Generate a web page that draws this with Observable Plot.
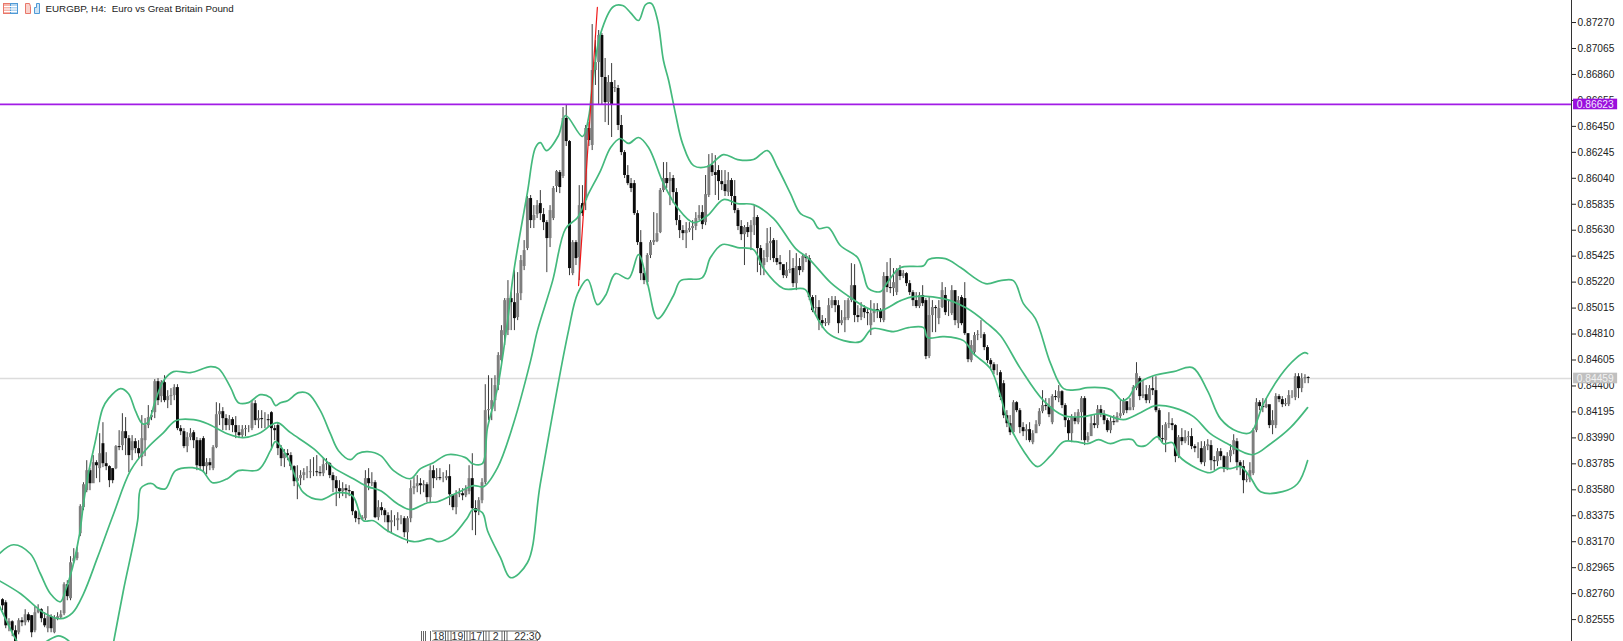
<!DOCTYPE html>
<html><head><meta charset="utf-8">
<script src="https://cdn.jsdelivr.net/npm/d3@7"></script>
<script src="https://cdn.jsdelivr.net/npm/@observablehq/plot@0.6"></script>
<style>
html,body{margin:0;padding:0;background:#fff;overflow:hidden}
#wrap{position:relative;width:1623px;height:641px}
#chrome{position:absolute;left:0;top:0;pointer-events:none}
</style></head><body>
<div id="wrap"><div id="plot"></div>
<svg id="chrome" width="1623" height="641">
<g stroke-width="1">
<rect x="3.5" y="3.5" width="7" height="10" fill="#f6b5ac" stroke="#e8776a"/><rect x="10.5" y="3.5" width="7" height="10" fill="#b5d5ef" stroke="#4f9ad6"/>
<path d="M4 6.5H17M4 9H17M4 11.500H17" stroke="#fff"/>
<path d="M25.500 3.500h4l1 3v7h-5z" fill="#f9d2cc" stroke="#e8776a"/><path d="M39.500 3.500h-3v4h-2v6h5z" fill="#cfe4f5" stroke="#4f9ad6"/>
</g>
<g stroke="#555" fill="none" stroke-width="0.9">
<path d="M421.500 631v10M423.500 631v10M425.500 631v10M430.500 631v10M432 631H537l4 5-4 5H432M445.500 631v10M448 631v10M451 631v10M464.500 631v10M467 631v10M470 631v10M483.500 631v10M486 631v10M489 631v10M502 631v10M504.500 631v10M507 631v10"/>
</g>
</svg></div>
<script>
// EURGBP H4 prices, in units of 0.00001
const closes=[
82664,82506,82538,82467,82380,82546,82530,82593,82546,82451,
82609,82633,82562,82506,82578,82483,82562,82578,82593,82830,
82736,83004,83036,83083,83447,83620,83731,83628,83794,83770,
83865,83786,83763,83652,83652,83921,83913,84039,83984,83850,
83960,83905,83865,83984,84087,84150,84166,84434,84284,84426,
84284,84316,84324,84387,84063,84039,83921,83992,84023,83968,
83770,83763,83763,83794,83770,83913,84173,84197,84142,84087,
84134,84087,84031,84008,84055,84063,84063,84260,84126,84142,
84134,84134,84126,84063,84047,83905,83826,83865,83850,83763,
83644,83668,83692,83715,83715,83723,83723,83715,83707,83778,
83786,83692,83652,83589,83565,83589,83573,83565,83407,83352,
83344,83360,83668,83628,83636,83360,83439,83415,83376,83320,
83336,83336,83352,83352,83241,83352,83589,83605,83628,83612,
83620,83518,83731,83668,83676,83668,83668,83684,83541,83439,
83541,83549,83533,83581,83668,83431,83399,83494,83636,84205,
84213,84284,84403,84640,84837,85074,85090,85058,84932,85129,
85390,85469,85880,85706,85746,85824,85761,85690,85564,85785,
85959,86093,85967,86512,86330,85327,85532,85406,85824,85761,
86433,86338,86891,86954,87168,86836,86638,86796,86615,86757,
86457,86243,86062,85998,85959,85761,85532,85287,85232,85430,
85532,85548,85603,85943,86038,85998,86038,85927,85706,85627,
85603,85627,85643,85659,85722,85746,85674,85911,86140,86085,
86062,86014,85990,85935,86022,85896,85785,85659,85595,85651,
85611,85666,85730,85485,85351,85406,85524,85540,85406,85374,
85358,85271,85311,85319,85208,85343,85311,85422,85406,85098,
84995,85019,84916,84892,84900,85034,85074,85034,84892,84916,
84940,85074,85192,84956,84940,85011,84979,84971,84971,85003,
84995,84932,85264,85177,85169,85216,85311,85264,85287,85208,
85137,85074,85027,85114,85050,84632,84956,85019,85011,85011,
85153,84979,84979,85153,84916,85074,84892,84813,84608,84719,
84798,84805,84805,84703,84600,84568,84521,84521,84308,84165,
84102,84031,84268,84205,84071,84039,84055,83968,84023,84094,
84197,84245,84237,84173,84316,84308,84355,84245,84126,84023,
84150,84118,84189,84300,83968,84000,84102,84087,84213,84173,
84126,84047,84118,84110,84158,84181,84276,84205,84229,84387,
84497,84316,84331,84284,84379,84363,84205,83984,83976,84094,
84102,84087,83842,83992,83960,83992,84000,83921,83905,83905,
83794,83921,83936,83810,83802,83881,83842,83747,83842,83889,
83968,83794,83763,83652,83660,83731,84047,84268,84237,84229,
84252,84087,84126,84316,84292,84252,84260,84324,84324,84473,
84379,84458,84466,84459];
const opens=[
82712,82688,82506,82538,82467,82451,82546,82530,82593,82586,
82467,82609,82633,82562,82483,82578,82451,82562,82570,82601,
82830,82720,83012,83036,83233,83439,83573,83731,83628,83794,
83747,83944,83786,83763,83747,83747,83921,83929,84039,83984,
83889,83960,83905,83834,83968,84087,84150,84189,84434,84316,
84426,84284,84316,84324,84387,84063,84039,83921,83992,84031,
83968,83968,83984,83763,83794,83747,83913,84173,84197,84142,
84087,84134,84087,84031,84008,84055,84063,84063,84260,84126,
84142,84134,84134,84189,84063,84087,83905,83826,83865,83850,
83763,83644,83668,83692,83715,83715,83723,83723,83715,83707,
83778,83786,83692,83652,83589,83565,83589,83573,83565,83407,
83352,83344,83352,83668,83628,83636,83360,83439,83415,83376,
83320,83336,83336,83352,83352,83241,83352,83589,83605,83628,
83612,83620,83518,83731,83668,83676,83668,83668,83684,83541,
83439,83541,83549,83533,83565,83668,83431,83415,83494,83636,
84205,84213,84284,84403,84600,84798,84837,85090,85058,84940,
85129,85343,85485,85880,85706,85753,85840,85753,85690,85564,
85722,85975,86085,86054,86512,86330,85287,85532,85414,85840,
85864,86433,86299,86891,86954,87168,86836,86638,86796,86749,
86749,86457,86243,86062,85998,85998,85761,85532,85287,85216,
85430,85532,85540,85611,85943,86038,86014,86038,85927,85706,
85627,85603,85627,85643,85659,85722,85769,85690,85904,86140,
86085,86101,86014,85990,85927,86022,85896,85785,85659,85595,
85651,85611,85666,85730,85485,85351,85414,85524,85548,85406,
85374,85358,85264,85311,85327,85208,85343,85311,85422,85406,
85098,85011,85019,84916,84892,84892,85034,85074,85034,84892,
84916,84932,85074,85192,84956,84940,85011,84979,84876,84971,
85003,84995,84916,85264,85177,85169,85137,85311,85264,85287,
85208,85137,85074,85027,85114,85074,84632,84956,85019,84932,
85019,85114,84979,84971,85153,84892,85098,85090,84813,84600,
84663,84798,84805,84805,84703,84600,84568,84521,84505,84418,
84165,84102,84031,84268,84205,84071,84039,84055,83952,84023,
84094,84197,84245,84237,84110,84316,84300,84355,84245,84126,
84023,84150,84110,84189,84300,83968,84000,84102,84087,84213,
84173,84126,84047,84118,84110,84158,84181,84276,84205,84229,
84379,84458,84316,84331,84284,84379,84363,84205,83984,83968,
84094,84102,84087,83842,83992,83960,83992,84000,83921,83905,
83905,83794,83921,83929,83810,83802,83881,83842,83747,83842,
83889,83960,83794,83763,83652,83660,83707,84047,84268,84237,
84229,84252,84087,84087,84316,84292,84252,84252,84324,84308,
84473,84379,84458,84466];
const highs=[
82720,82704,82562,82546,82506,82562,82570,82633,82609,82586,
82657,82672,82641,82609,82657,82593,82586,82609,82625,82846,
82862,83052,83115,83123,83462,83636,83810,83747,83850,83810,
84023,84110,83873,83770,83747,83929,84047,84181,84150,84008,
84008,83984,83968,84166,84142,84245,84205,84450,84458,84442,
84481,84363,84379,84410,84410,84087,84063,84031,84063,84047,
83992,83984,84000,83826,83826,83929,84268,84260,84229,84173,
84166,84150,84158,84087,84087,84087,84087,84284,84284,84205,
84205,84189,84173,84197,84087,84110,83929,83897,83897,83873,
83770,83770,83731,83747,83763,83818,83834,83850,83763,83826,
83826,83794,83715,83684,83652,83636,83620,83612,83565,83415,
83399,83376,83731,83747,83715,83652,83494,83478,83431,83399,
83415,83376,83399,83376,83368,83368,83652,83676,83692,83668,
83652,83636,83770,83770,83747,83747,83715,83731,83778,83541,
83573,83589,83589,83612,83770,83865,83494,83518,83668,84410,
84481,84458,84481,84663,84876,85090,85232,85137,85311,85295,
85430,85548,85896,85904,85824,85864,85943,85801,85706,85824,
85975,86101,86101,86599,86615,86338,85548,85548,85982,85982,
86457,86480,87254,87128,87207,87183,86986,86851,86946,86812,
86773,86536,86259,86140,86038,86022,85785,85627,85327,85445,
85548,85769,85761,85959,86164,86164,86085,86062,85959,85746,
85666,85690,85690,85706,85769,85824,85824,86062,86227,86235,
86219,86140,86101,86101,86085,86038,86022,85801,85706,85666,
85690,85706,85824,85746,85509,85469,85643,85651,85564,85548,
85430,85351,85374,85469,85406,85445,85406,85437,85445,85430,
85114,85114,85074,84956,84932,85090,85106,85106,85074,84995,
85074,85090,85366,85358,85034,85058,85034,85011,85074,85050,
85050,85011,85295,85374,85406,85327,85327,85351,85311,85295,
85232,85153,85137,85137,85192,85090,85098,85074,85034,85074,
85216,85177,85074,85192,85074,85106,85114,85216,84813,84758,
84821,84837,84916,84821,84719,84616,84584,84568,84521,84442,
84205,84166,84284,84276,84221,84110,84094,84110,84047,84126,
84221,84363,84300,84300,84331,84363,84403,84363,84260,84142,
84173,84189,84213,84316,84316,84031,84158,84166,84245,84245,
84205,84142,84150,84166,84189,84284,84300,84268,84300,84403,
84584,84473,84442,84403,84403,84473,84473,84221,84087,84110,
84189,84142,84094,84008,84063,84047,84039,84063,83936,83952,
83960,83960,83976,83968,83842,83905,83905,83850,83873,83936,
84015,83984,83810,83810,83715,83794,84063,84300,84284,84300,
84300,84245,84205,84339,84331,84316,84300,84363,84363,84497,
84497,84497,84489,84473];
const lows=[
82625,82483,82459,82420,82349,82435,82499,82506,82530,82412,
82451,82601,82530,82491,82451,82451,82443,82546,82562,82586,
82704,82704,82996,83020,83210,83415,83557,83573,83636,83668,
83636,83755,83731,83597,83628,83739,83889,83889,83850,83715,
83810,83865,83826,83763,83842,84063,84126,84142,84245,84268,
84268,84221,84245,84284,84047,84008,83905,83873,83968,83905,
83731,83731,83715,83699,83731,83731,83905,84087,84047,84047,
84047,84031,83984,83984,83984,84000,84031,84047,84087,84063,
84063,84063,84071,83889,83968,83850,83763,83755,83810,83731,
83605,83502,83612,83652,83668,83668,83684,83684,83684,83684,
83731,83668,83557,83447,83510,83526,83510,83526,83376,83320,
83304,83336,83336,83573,83605,83352,83336,83376,83320,83241,
83233,83289,83257,83304,83202,83154,83320,83541,83557,83541,
83557,83478,83478,83589,83652,83652,83636,83652,83455,83415,
83383,83518,83494,83518,83541,83257,83218,83376,83470,83620,
84126,84126,84197,84363,84584,84719,84798,84837,84837,84916,
85074,85311,85469,85643,85643,85722,85706,85627,85295,85493,
85706,85927,85919,86038,86291,85271,85271,85351,85232,85738,
85785,86291,86259,86773,86615,86615,86480,86457,86362,86717,
86417,86219,86038,85982,85927,85746,85509,85232,85200,85192,
85406,85509,85532,85603,85927,85959,85824,85840,85666,85564,
85548,85485,85611,85548,85627,85706,85635,85666,85888,86054,
85904,85864,85943,85896,85896,85824,85761,85627,85548,85351,
85572,85469,85588,85295,85271,85271,85374,85390,85374,85351,
85311,85248,85248,85287,85177,85153,85271,85295,85374,85074,
84979,84956,84837,84853,84869,84876,85011,84979,84813,84876,
84821,84916,85058,84900,84900,84916,84932,84876,84798,84900,
84932,84900,84900,85137,85129,85106,85114,85232,85248,85185,
85114,85027,85011,85011,85027,84608,84616,84821,84821,84884,
85011,84956,84948,84956,84876,84853,84876,84798,84584,84584,
84640,84758,84774,84679,84576,84521,84489,84481,84284,84142,
84071,84008,84015,84189,84023,84000,83968,83952,83936,84047,
84079,84181,84205,84150,84094,84284,84268,84221,84071,83968,
83952,84094,84094,83968,83929,83952,84063,84063,84063,84150,
84094,84031,84023,84087,84110,84142,84166,84181,84205,84205,
84363,84284,84300,84260,84260,84324,84189,83968,83952,83873,
84063,84047,83794,83826,83929,83944,83929,83897,83873,83826,
83778,83763,83889,83731,83731,83763,83810,83715,83731,83794,
83857,83731,83692,83549,83636,83636,83692,84031,84205,84189,
84221,84063,84015,84063,84268,84229,84237,84237,84300,84284,
84300,84347,84418,84418];

// Bollinger bands: bar position and price of each reading
const upperBar=[-1,3.4,8.6,11.7,14.8,17.9,19.4,21.6,23.8,25,26.5,28.7,30.9,32.7,36.4,38.9,41,43.2,44.8,47.2,49.7,52.8,58,64.2,66.7,70.4,72.8,75.9,79.6,82.7,84.3,85.8,88,91.4,94.4,98.1,101.2,103.7,107.4,109.6,112.7,116.7,120.7,125.9,129,133,137.3,142.9,145.1,148.1,149.7,152.8,155.9,157.7,162,164.5,166,167.9,171.6,173.8,179,180.9,182.1,184.6,188.6,191.4,193.8,196.3,198.5,200.3,202.2,204,205.6,207.7,209.9,213.3,217.6,222.5,226.9,231.8,236.1,239.2,243.2,246.3,250,251.9,254.9,258.6,263.9,265.7,267.3,271,273.1,277.2,284.3,285.8,291,295.7,303.4,308,312,315.1,318.8,323.5,327.5,331.8,334.9,342,345.7,347.5,350.3,355.2,361.4,367.3,371.9,375.9,381.2,385.2,389.2,394.4,399.1,401.9,402.8];
const upperBand=[83075,83146,83075,82917,82759,82696,82783,82965,83233,83470,83707,83968,84221,84300,84379,84339,84205,84102,84110,84284,84442,84513,84505,84552,84537,84387,84268,84268,84331,84308,84245,84268,84284,84347,84339,84205,84023,83889,83818,83865,83881,83850,83731,83668,83747,83794,83857,83834,83786,83786,84071,84387,84916,85287,85927,86283,86322,86259,86378,86536,86370,86520,86788,87183,87397,87404,87349,87286,87412,87420,87286,86970,86812,86551,86314,86140,86133,86227,86188,86188,86259,86125,85919,85761,85714,85643,85651,85509,85414,85287,85169,85145,85216,85335,85350,85398,85406,85335,85208,85232,85232,85050,84932,84576,84379,84371,84387,84371,84284,84308,84418,84481,84513,84545,84363,84142,84040,84032,84260,84481,84616,84663,84655];
const middleBar=[-1,5.6,12.7,17.9,21.6,25,29.3,34.3,39.5,44.8,49.7,53.4,59,63.3,69.4,74.4,79.6,82.7,84.9,88.9,96,102.2,108.3,112.7,116.7,121.9,125.9,131.2,134.3,140.4,145.4,148.5,152.8,157.7,163,165.1,169.8,173.8,177.5,180.6,184.6,187.7,190.7,193.2,196.3,199.4,204,208.3,213.3,217.6,222.5,226.9,231.8,238,244.8,248.8,255.6,260.8,267.3,271,277.2,281.2,290.4,297.8,304,308,314.2,321.3,327.5,333.6,338.9,346,351.2,355.9,361.4,367.6,372.8,378.1,385.8,391.4,397.5,402.8];
const middleBand=[82862,82759,82609,82562,82609,82759,83044,83391,83731,83912,84031,84126,84134,84102,84023,83992,84031,84087,84110,84031,83905,83755,83668,83605,83573,83470,83423,83478,83486,83557,83613,83605,83755,84102,84600,84837,85232,85643,85730,85904,86101,86283,86354,86315,86362,86283,85999,85809,85690,85746,85872,85840,85832,85722,85485,85406,85216,85114,85011,84995,85074,85106,85090,85011,84892,84798,84537,84284,84166,84158,84181,84134,84189,84245,84229,84158,84023,83944,83857,83944,84071,84229];
const lowerBar=[-1,4,5.6,9.6,13.9,17.3,20,21.6,25.6,30.2,34.3,37.3,41.7,42.6,44.1,46.3,47.8,50.3,53.4,58.6,61.7,64.8,69.4,72.8,79,82.7,84.3,88,92.9,98.1,103.4,108,111.4,114.5,118.8,126.9,132.1,134.6,138.9,143.5,145.1,148.1,149.7,153.7,156.8,162,166,174.7,177.5,180.6,183.6,186.1,189.2,193.2,196.3,199.1,202.2,207.1,209.3,216,218.5,222.2,226.9,231.8,234.9,241,247.8,250.3,254.6,259.6,264.8,268.5,275,279.6,284.3,285.5,290.4,296.6,299.7,304.9,308,310.2,315.1,319.4,323.5,327.5,331.2,334.9,338.3,342,345.7,348.8,350.3,352.8,356.5,358.3,361.1,363,368.8,372.8,375.9,379,382.1,385.2,388.3,395.1,399.7,402.8];
const lowerBand=[82665,82404,82341,82309,82388,82427,82396,82348,81914,81835,82380,82783,83336,83589,83620,83628,83597,83589,83731,83755,83731,83636,83668,83731,83739,83889,83960,83834,83557,83502,83557,83533,83336,83336,83257,83170,83194,83170,83218,83360,83423,83399,83257,83044,82886,83004,83628,84837,85129,85240,85042,85114,85287,85248,85437,85208,84932,85114,85232,85256,85414,85517,85493,85477,85327,85169,85161,84995,84821,84758,84750,84853,84829,84861,84861,84782,84790,84758,84655,84537,84324,84126,83889,83763,83850,83960,83960,83944,83976,83944,83976,83976,83929,83929,84000,83944,83952,83850,83747,83715,83755,83747,83763,83676,83565,83565,83628,83810];

// Price axis
const priceTicks=[87270,87065,86860,86655,86450,86245,86040,85835,85630,85425,85220,85015,84810,84605,84400,84195,83990,83785,83580,83375,83170,82965,82760,82555];
const levelPrice=[86623];
const bidPrice=[84459];
const trendBar=[177.8,183.6];
const trendPrice=[85193,87389];
const timeLabels=["18","19","17","2","22:30"];
const timeBars=[134.6,140.4,146.2,152.2,162];
const titleText=["EURGBP, H4:  Euro vs Great Britain Pound"];

const font="'Liberation Sans', Arimo, sans-serif";
const fmt=d=>(d/1e5).toFixed(5);
const idx=d3.range(closes.length);
const up=idx.filter(i=>closes[i]>=opens[i]);
const down=idx.filter(i=>closes[i]<opens[i]);
const green="#44b97d";
const bandLine=(vals,bars)=>Plot.line(vals,{x:(d,i)=>bars[i],y:d=>d,stroke:green,strokeWidth:1.7,curve:"catmull-rom",clip:true});
const tagBox=(price,fill,color)=>[
  Plot.rect([price],{x1:()=>484.9,x2:()=>498.5,y1:d=>d-42,y2:d=>d+42,fill}),
  Plot.text([price],{x:()=>485.9,y:d=>d,text:d=>fmt(d),textAnchor:"start",fill:color,fontSize:10.2,fontFamily:font})
];

const chart=Plot.plot({
  width:1623,height:641,marginLeft:0,marginRight:52,marginTop:0,marginBottom:0,
  style:{background:"#fff",fontFamily:font},
  x:{type:"linear",domain:[0,484.26],range:[2,1571],axis:null},
  y:{type:"linear",domain:[87444,82382],range:[0,641],axis:null},
  marks:[
    Plot.ruleY(bidPrice,{stroke:"#dcdcdc",strokeWidth:1.5}),
    Plot.ruleX(idx,{x:i=>i,y1:i=>lows[i],y2:i=>highs[i],stroke:"#3a3a3a",strokeWidth:1,clip:true}),
    Plot.ruleX(up,{x:i=>i,y1:i=>opens[i],y2:i=>closes[i],stroke:"#7e7e7e",strokeWidth:2.9,clip:true}),
    Plot.ruleX(down,{x:i=>i,y1:i=>opens[i],y2:i=>closes[i],stroke:"#0a0a0a",strokeWidth:2.9,clip:true}),
    bandLine(upperBand,upperBar),
    bandLine(middleBand,middleBar),
    bandLine(lowerBand,lowerBar),
    Plot.line(trendPrice,{x:(d,i)=>trendBar[i],y:d=>d,stroke:"#f01818",strokeWidth:1.2}),
    Plot.ruleY(levelPrice,{stroke:"#a21ce6",strokeWidth:1.8}),
    Plot.frame({anchor:"right",stroke:"#333"}),
    Plot.axisY({anchor:"right",ticks:priceTicks,tickFormat:fmt,tickSize:4,tickPadding:2,label:null,fontSize:10.2,fontFamily:font,color:"#222"}),
    tagBox(levelPrice[0],"#9a0fdc","#f4e6ff"),
    tagBox(bidPrice[0],"#c0c0c0","#f2f2f2"),
    Plot.text(timeLabels,{x:(d,i)=>timeBars[i],frameAnchor:"bottom",dy:-1.5,text:d=>d,fill:"#333",fontSize:10.5,fontFamily:font}),
    Plot.text(titleText,{frameAnchor:"top-left",dx:45,dy:4.5,text:d=>d,textAnchor:"start",fill:"#222",fontSize:9.8,fontFamily:font})
  ]
});
document.getElementById("plot").appendChild(chart);
</script></body></html>
